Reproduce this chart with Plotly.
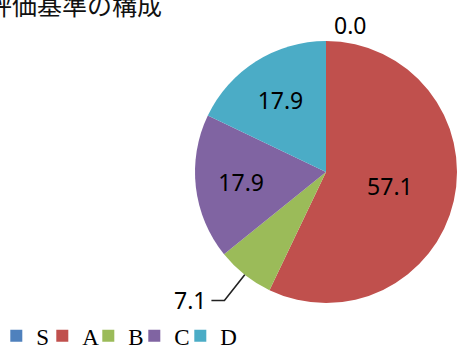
import math
import plotly.graph_objects as go

categories = ["S", "A", "B", "C", "D"]
values = [0.0, 57.1, 7.1, 17.9, 17.9]
colors = ["#4F81BD", "#C0504D", "#9BBB59", "#8064A2", "#4BACC6"]
title_text = "評価基準の構成"

W, H = 462, 347
dom_x = [195 / W, 457 / W]
dom_y = [44 / H, 306 / H]

# leader-line label for the B slice (computed from the data angle)
lead_idx = 2
textpos = ["outside", "inside", "none", "inside", "inside"]

fig = go.Figure()
fig.add_trace(go.Pie(
    labels=categories,
    values=values,
    sort=False,
    direction="clockwise",
    rotation=0,
    marker=dict(colors=colors, line=dict(width=0)),
    texttemplate="%{value:.1f}",
    textposition=textpos,
    insidetextorientation="horizontal",
    textfont=dict(family="Noto Sans, DejaVu Sans", size=23, color="black"),
    domain=dict(x=dom_x, y=dom_y),
    showlegend=True,
    hoverinfo="label+value",
))
# empty spacer legend entry so the last legend label is not clipped
fig.add_trace(go.Scatter(
    x=[None], y=[None], name=" ", mode="markers",
    marker=dict(color="rgba(0,0,0,0)", size=1),
    showlegend=True, hoverinfo="skip",
))

# geometry of the pie in pixels
cx = (dom_x[0] + dom_x[1]) / 2 * W
cy = H - (dom_y[0] + dom_y[1]) / 2 * H
r = min((dom_x[1] - dom_x[0]) * W, (dom_y[1] - dom_y[0]) * H) / 2
total = sum(values)
start = sum(values[:lead_idx]) / total
mid = (start + values[lead_idx] / total / 2) * 2 * math.pi
dx, dy = math.sin(mid), -math.cos(mid)
p0 = (cx + r * dx, cy + r * dy)
p1 = (cx + r * 1.25 * dx, cy + r * 1.25 * dy)
p2 = (p1[0] - 13, p1[1])


def paper(pt):
    return pt[0] / W, 1 - pt[1] / H


a0, a1, a2 = paper(p0), paper(p1), paper(p2)
fig.add_shape(
    type="path", xref="paper", yref="paper",
    path=f"M {a0[0]},{a0[1]} L {a1[0]},{a1[1]} L {a2[0]},{a2[1]}",
    line=dict(color="#222222", width=1.6),
)
fig.add_annotation(
    text=f"{values[lead_idx]:.1f}", xref="paper", yref="paper",
    x=a2[0] - 3 / W, y=a2[1], xanchor="right", yanchor="middle",
    showarrow=False,
    font=dict(family="Noto Sans, DejaVu Sans", size=23, color="black"),
)

fig.update_layout(
    width=W, height=H,
    margin=dict(l=0, r=0, t=0, b=0, autoexpand=False),
    paper_bgcolor="white",
    plot_bgcolor="white",
    xaxis=dict(visible=False),
    yaxis=dict(visible=False),
    showlegend=True,
    legend=dict(
        orientation="h", x=-0.008, y=-0.03, xanchor="left", yanchor="bottom",
        font=dict(family="Liberation Serif, Times New Roman, serif", size=23, color="black"),
        entrywidth=1, entrywidthmode="pixels", itemwidth=30,
        traceorder="normal", bgcolor="rgba(0,0,0,0)",
    ),
)
fig.add_annotation(
    text=title_text, xref="paper", yref="paper",
    x=-15 / W, y=(H - 4) / H, xanchor="left", yanchor="middle",
    showarrow=False,
    font=dict(family="Noto Sans CJK JP", size=25, color="#111111"),
)
fig.write_html("out.html")
